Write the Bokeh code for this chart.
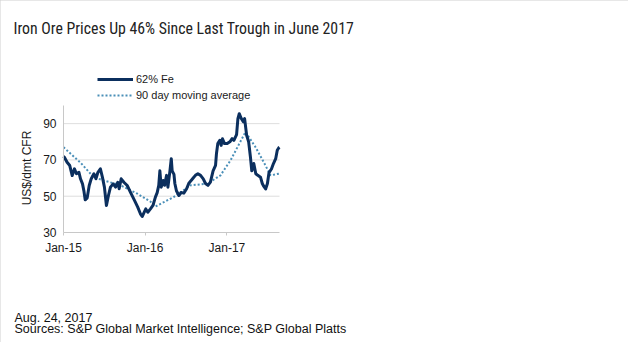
import math
import pandas as pd
from bokeh.plotting import figure
from bokeh.models import (Label, Legend, LegendItem, FixedTicker, Range1d)
from bokeh.embed import file_html
from bokeh.resources import INLINE

# ---- data ----
price_dates = [
    "2015-01-01", "2015-01-05", "2015-01-17", "2015-01-29", "2015-02-09", "2015-02-19",
    "2015-02-28", "2015-03-11", "2015-03-18", "2015-03-27", "2015-04-02", "2015-04-08",
    "2015-04-17", "2015-04-26", "2015-05-05", "2015-05-17", "2015-05-26", "2015-06-04",
    "2015-06-15", "2015-06-24", "2015-07-03", "2015-07-12", "2015-07-21", "2015-07-30",
    "2015-08-11", "2015-08-22", "2015-09-01", "2015-09-07", "2015-09-16", "2015-09-28",
    "2015-10-13", "2015-10-31", "2015-11-15", "2015-11-29", "2015-12-11", "2015-12-19",
    "2015-12-26", "2016-01-04", "2016-01-13", "2016-01-25", "2016-02-05", "2016-02-16",
    "2016-02-24", "2016-03-02", "2016-03-07", "2016-03-13", "2016-03-22", "2016-03-28",
    "2016-04-06", "2016-04-12", "2016-04-21", "2016-04-27", "2016-05-01", "2016-05-09",
    "2016-05-13", "2016-05-20", "2016-05-31", "2016-06-10", "2016-06-22", "2016-07-04",
    "2016-07-14", "2016-07-25", "2016-08-03", "2016-08-13", "2016-08-24", "2016-09-05",
    "2016-09-17", "2016-09-27", "2016-10-08", "2016-10-19", "2016-10-31", "2016-11-11",
    "2016-11-15", "2016-11-21", "2016-11-30", "2016-12-06", "2016-12-12", "2016-12-21",
    "2017-01-02", "2017-01-14", "2017-01-24", "2017-02-01", "2017-02-13", "2017-02-19",
    "2017-02-25", "2017-03-06", "2017-03-15", "2017-03-21", "2017-03-30", "2017-04-08",
    "2017-04-16", "2017-04-22", "2017-05-01", "2017-05-10", "2017-05-19", "2017-05-31",
    "2017-06-08", "2017-06-15", "2017-06-23", "2017-07-01", "2017-07-08", "2017-07-19",
    "2017-07-28", "2017-08-07", "2017-08-14", "2017-08-21", "2017-08-24",
]
price_values = [
    72.0, 71.5, 68.7, 66.9, 61.4, 65.1,
    62.4, 63.2, 59.6, 56.8, 53.1, 48.0,
    49.1, 55.9, 59.6, 62.4, 59.6, 63.2,
    65.1, 60.5, 55.0, 44.9, 50.4, 55.0,
    56.8, 55.0, 57.7, 54.1, 59.6, 57.7,
    55.9, 51.3, 47.6, 44.0, 40.3, 38.8,
    40.7, 43.0, 41.2, 43.0, 44.9, 49.5,
    52.0, 56.0, 64.0, 55.0, 58.7, 56.0,
    61.5, 55.0, 64.0, 70.7, 64.0, 62.0,
    57.0, 53.0, 50.4, 52.0, 51.7, 54.0,
    57.0, 58.7, 60.0, 61.5, 62.4, 61.5,
    59.6, 57.0, 56.0, 57.8, 64.0, 67.0,
    73.4, 79.0, 80.8, 78.0, 81.7, 79.0,
    79.0, 80.0, 81.7, 80.8, 84.0, 92.8,
    95.5, 92.8, 91.0, 92.8, 83.6, 80.0,
    71.6, 64.0, 68.0, 62.4, 61.5, 60.5,
    57.0, 55.4, 54.0, 57.0, 63.0, 65.0,
    68.0, 70.7, 75.3, 76.7, 77.0,
]
ma_dates = [
    "2015-01-01", "2015-03-18", "2015-05-16", "2015-06-30", "2015-09-13", "2015-11-27",
    "2016-01-25", "2016-02-16", "2016-05-07", "2016-07-22", "2016-10-05", "2016-12-03",
    "2017-01-17", "2017-03-25", "2017-05-09", "2017-06-22", "2017-07-15", "2017-08-24",
]
ma_values = [
    77.0, 68.5, 60.5, 58.7, 56.0, 51.4,
    47.0, 44.3, 49.5, 56.0, 56.9, 61.5,
    69.8, 85.4, 77.0, 67.0, 61.5, 62.5,
]
y_ticks = [30, 50, 70, 90]
y_top = 100
x_start, x_end = "2015-01-01", "2017-08-24"
x_tick_dates = ["2015-01-01", "2016-01-01", "2017-01-01"]
x_tick_labels = ["Jan-15", "Jan-16", "Jan-17"]
series_names = ["62% Fe", "90 day moving average"]

title_text = "Iron Ore Prices Up 46% Since Last Trough in June 2017"
date_text = "Aug. 24, 2017"
source_text = "Sources: S&P Global Market Intelligence; S&P Global Platts"
y_label_text = "US$/dmt CFR"

# ---- layout: plot area inside the canvas (pixels) ----
W, H = 628, 342
PL, PR, PT, PB = 63, 279, 105, 232

t0, t1 = pd.Timestamp(x_start), pd.Timestamp(x_end)
px_per_day = (PR - PL) / (t1 - t0).days
xr = Range1d(t0 - pd.Timedelta(days=PL / px_per_day),
             t0 + pd.Timedelta(days=(W - PL) / px_per_day))
px_per_unit = (PB - PT) / (y_top - y_ticks[0])
yr = Range1d(y_ticks[0] - (H - PB) / px_per_unit, y_ticks[0] + PB / px_per_unit)

def ms(d):
    return pd.Timestamp(d).timestamp() * 1000

p = figure(width=W, height=H, output_backend="svg", toolbar_location=None,
           x_axis_type="datetime", x_range=xr, y_range=yr,
           min_border_left=0, min_border_right=0, min_border_top=0, min_border_bottom=0)
p.outline_line_color = None
p.background_fill_color = "white"
p.border_fill_color = "white"
p.styles = {"outline": "1px solid #cfcfcf", "outline-offset": "-1px"}

FONT = "'Liberation Sans', Arial, sans-serif"
TXT = "#1a1a1a"
AX = "#c8c8c8"

# axes at fixed positions inside the canvas
tick_ms = [ms(d) for d in x_tick_dates]
p.xaxis.fixed_location = y_ticks[0]
p.xaxis.bounds = (ms(x_start), ms(x_end))
p.xaxis.ticker = FixedTicker(ticks=tick_ms)
p.xaxis.major_label_overrides = {t: l for t, l in zip(tick_ms, x_tick_labels)}
p.xaxis.axis_line_color = AX
p.xaxis.major_tick_line_color = AX
p.xaxis.major_tick_in = 0
p.xaxis.major_tick_out = 3
p.xaxis.minor_tick_line_color = None
p.xaxis.major_label_standoff = 5
p.xaxis.major_label_text_font = FONT
p.xaxis.major_label_text_font_size = "12px"
p.xaxis.major_label_text_color = TXT

p.yaxis.fixed_location = ms(x_start)
p.yaxis.bounds = (y_ticks[0], y_top)
p.yaxis.ticker = FixedTicker(ticks=y_ticks)
p.yaxis.axis_line_color = AX
p.yaxis.major_tick_line_color = None
p.yaxis.major_tick_in = 0
p.yaxis.major_tick_out = 0
p.yaxis.minor_tick_line_color = None
p.yaxis.major_label_standoff = 7
p.yaxis.major_label_text_font = FONT
p.yaxis.major_label_text_font_size = "12px"
p.yaxis.major_label_text_color = TXT

p.xgrid.grid_line_color = None
p.ygrid.grid_line_color = None

# horizontal gridlines limited to the data span
grid_vals = y_ticks[1:]
p.segment(x0=[t0] * len(grid_vals), x1=[t1] * len(grid_vals), y0=grid_vals, y1=grid_vals,
          line_color="#dedede", line_width=1)

# series
r_ma = p.line(pd.to_datetime(ma_dates), ma_values, line_color="#4a8fb8",
              line_width=2, line_dash="2 2")
r_pr = p.line(pd.to_datetime(price_dates), price_values, line_color="#0b2f5e",
              line_width=3, line_join="round")

legend = Legend(items=[LegendItem(label=series_names[0], renderers=[r_pr]),
                       LegendItem(label=series_names[1], renderers=[r_ma])],
                location=(97, H - 103), orientation="vertical",
                glyph_width=36, glyph_height=16, label_height=16,
                label_standoff=3, spacing=0, padding=0, margin=0,
                border_line_color=None, background_fill_alpha=0,
                label_text_font=FONT, label_text_font_size="11px",
                label_text_color=TXT)
p.add_layout(legend, "center")

# texts
p.add_layout(Label(x=13, y=H - 28, x_units="screen", y_units="screen", text=title_text,
                   text_font="'Liberation Sans Narrow', 'Roboto Condensed', Roboto",
                   text_font_size="15.8px", text_color="#222222",
                   text_baseline="alphabetic"))
p.add_layout(Label(x=26, y=H - 167.5, x_units="screen", y_units="screen", text=y_label_text,
                   angle=math.pi / 2, text_align="center", text_baseline="middle",
                   text_font=FONT, text_font_size="12px", text_color=TXT))
p.add_layout(Label(x=14, y=H - 317.3, x_units="screen", y_units="screen", text=date_text,
                   text_font=FONT, text_font_size="12.5px", text_color="#111111",
                   text_baseline="alphabetic"))
p.add_layout(Label(x=14, y=H - 328.3, x_units="screen", y_units="screen", text=source_text,
                   text_font=FONT, text_font_size="12.5px", text_color="#111111",
                   text_baseline="alphabetic"))

open("out.html", "w").write(file_html(p, INLINE))
